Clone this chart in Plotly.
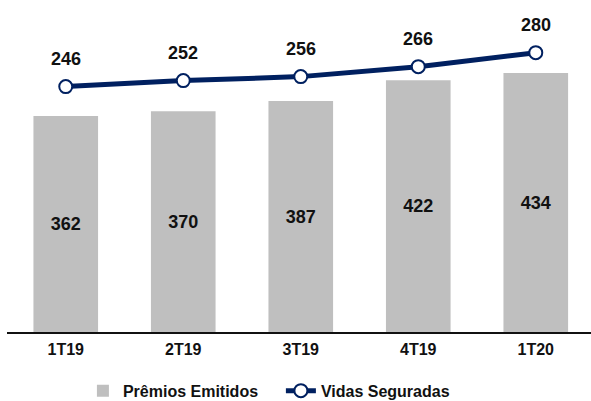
import plotly.graph_objects as go

# Dados
trimestres = ['1T19', '2T19', '3T19', '4T19', '1T20']
premios_emitidos = [362, 370, 387, 422, 434]
vidas_seguradas = [246, 252, 256, 266, 280]

AZUL = '#002060'
CINZA = '#bfbfbf'
FONTE = 'Arial, Liberation Sans, sans-serif'

fig = go.Figure()

fig.add_trace(go.Bar(
    name='Prêmios Emitidos',
    x=trimestres,
    y=premios_emitidos,
    width=0.55,
    marker=dict(color=CINZA, line=dict(width=0)),
    text=premios_emitidos,
    texttemplate='<b>%{text}</b>',
    textposition='inside',
    insidetextanchor='middle',
    textangle=0,
    constraintext='none',
    textfont=dict(family=FONTE, size=18, color='#111111'),
    hoverinfo='skip',
    legend='legend',
))

fig.add_trace(go.Scatter(
    name='Vidas Seguradas',
    x=trimestres,
    y=vidas_seguradas,
    yaxis='y2',
    mode='lines+markers',
    line=dict(color=AZUL, width=5),
    marker=dict(size=13, color='white', line=dict(color=AZUL, width=2)),
    hoverinfo='skip',
    legend='legend2',
))

# Rótulos da linha
for t, v in zip(trimestres, vidas_seguradas):
    fig.add_annotation(
        x=t, y=v, xref='x', yref='y2',
        text='<b>%d</b>' % v,
        showarrow=False,
        yshift=28,
        font=dict(family=FONTE, size=18, color='#111111'),
    )

fonte_legenda = dict(family=FONTE, size=16, color='#111111', weight='bold')

fig.update_layout(
    width=591,
    height=401,
    margin=dict(l=7, r=0, t=0, b=69, autoexpand=False),
    paper_bgcolor='white',
    plot_bgcolor='white',
    font=dict(family=FONTE, color='#111111'),
    showlegend=True,
    legend=dict(
        orientation='h',
        x=0.13, xanchor='left',
        y=-0.177, yanchor='middle',
        font=fonte_legenda,
        bgcolor='rgba(0,0,0,0)',
    ),
    legend2=dict(
        orientation='h',
        x=0.469, xanchor='left',
        y=-0.177, yanchor='middle',
        font=fonte_legenda,
        bgcolor='rgba(0,0,0,0)',
    ),
    xaxis=dict(
        range=[-0.5, 4.47],
        showline=True,
        linecolor='#111111',
        linewidth=1.5,
        ticks='',
        ticklabelstandoff=2,
        tickfont=dict(family=FONTE, size=16, color='#111111', weight='bold'),
        showgrid=False,
    ),
    yaxis=dict(
        range=[0, 556.4],
        visible=False,
        showgrid=False,
        zeroline=False,
    ),
    yaxis2=dict(
        range=[0, 332.8],
        overlaying='y',
        visible=False,
        showgrid=False,
        zeroline=False,
    ),
)

# a página padrão tem margem de 8px no body
fig.write_html(
    "out.html",
    config={'displayModeBar': False},
    post_script="document.body.style.margin='0';",
)
